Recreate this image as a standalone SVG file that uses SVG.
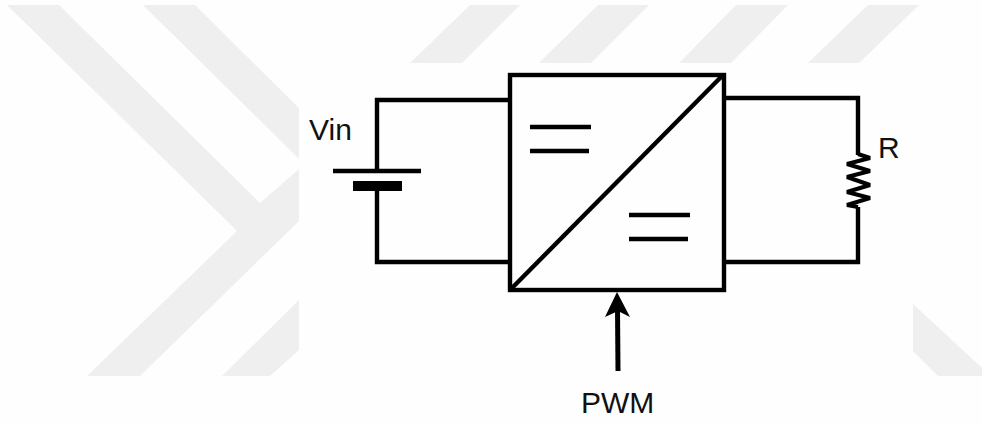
<svg xmlns="http://www.w3.org/2000/svg" width="982" height="424" viewBox="0 0 982 424">
<style>
.bg{fill:#efefef}
.w{fill:none;stroke:#000;stroke-width:4.4;stroke-linejoin:miter}
.t{font-family:"Liberation Sans",Arial,sans-serif;font-size:30px;fill:#111}
</style>
<rect width="982" height="424" fill="#fefefe"/>
<g id="watermark">
<polygon class="bg" points="7,5 59,5 260,203 299,169 299,221 140,376 87,376 237,231"/>
<polygon class="bg" points="143,5 195,5 299,108 299,159"/>
<polygon class="bg" points="222,376 299,300 299,350 270,376"/>
<polygon class="bg" points="410,63 470,5 520,5 462,63"/>
<polygon class="bg" points="539,63 598,5 649,5 591,63"/>
<polygon class="bg" points="679,63 736,5 788,5 731,63"/>
<polygon class="bg" points="808,63 868,5 919,5 859,63"/>
<polygon class="bg" points="913,304 982,368 982,376 938,376 913,351"/>
</g>
<g id="connectors">
<path class="w" d="M510 100H377V171"/>
<path class="w" d="M377 186V262H510"/>
<path class="w" d="M726 98H858V155"/>
<path class="w" d="M858 207V262H726"/>
<path class="w" style="stroke-width:5" d="M618 371L617.500 308"/>
<polygon points="617,292 630,317 618,311 605,317" fill="#000"/>
</g>
<g id="battery">
<path class="w" d="M333 171H421"/>
<rect x="353" y="181" width="49" height="10" fill="#000"/>
<text class="t" x="309" y="140">Vin</text>
</g>
<g id="converter">
<rect class="w" x="510" y="75" width="214" height="215"/>
<path class="w" d="M511 289L723 75"/>
<path class="w" d="M530 127H591M530 151H589M629 215H690M629 239H688"/>
</g>
<g id="resistor">
<path class="w" style="stroke-width:4;stroke-linejoin:bevel" d="M858 154L870 158L847 164L870 171L847 177L870 185L847 192L870 198L847 205L858 207"/>
<text class="t" x="878" y="158">R</text>
</g>
<g id="pwm">
<text class="t" x="581" y="413">PWM</text>
</g>
</svg>
